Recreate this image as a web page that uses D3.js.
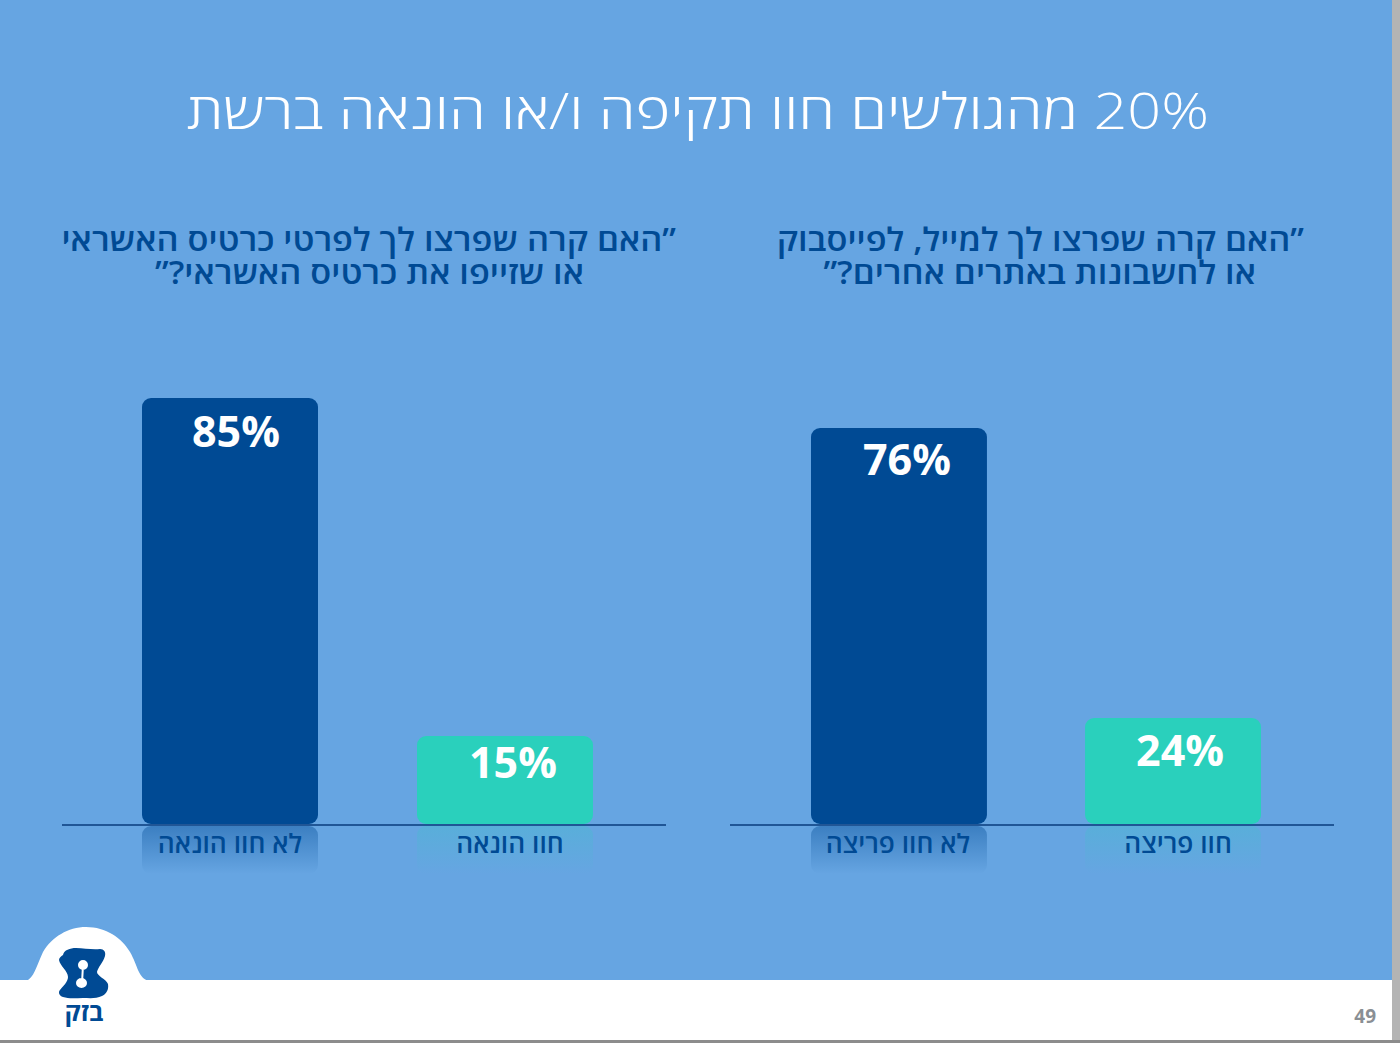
<!DOCTYPE html>
<html lang="he"><head><meta charset="utf-8">
<script src="https://cdn.jsdelivr.net/npm/d3@7/dist/d3.min.js"></script>
<style>html,body{margin:0;padding:0;background:#fff;overflow:hidden}svg{display:block}
text{font-family:"Open Sans","DejaVu Sans",sans-serif}</style></head><body>
<svg id="c" width="1400" height="1043"></svg>
<script>
const titleText = "20% מהגולשים חוו תקיפה ו/או הונאה ברשת";
const rightQuestion = ["”האם קרה שפרצו לך למייל, לפייסבוק", "או לחשבונות באתרים אחרים?”"];
const leftQuestion = ["”האם קרה שפרצו לך לפרטי כרטיס האשראי", "או שזייפו את כרטיס האשראי?”"];
const leftCategories = ["לא חוו הונאה", "חוו הונאה"];
const leftValues = [85, 15];
const rightCategories = ["לא חוו פריצה", "חוו פריצה"];
const rightValues = [76, 24];
const pageNumber = "49";
const BG="#66A5E2", NAVY="#004A94", TEAL="#2AD0BC";
const svg=d3.select("#c");
const defs=svg.append("defs");
[["n",NAVY,.42],["t",TEAL,.22]].forEach(([id,col,op])=>{
  const g=defs.append("linearGradient").attr("id","refl"+id).attr("x1",0).attr("x2",0).attr("y1",0).attr("y2",1);
  g.append("stop").attr("offset",0).attr("stop-color",col).attr("stop-opacity",op);
  g.append("stop").attr("offset",1).attr("stop-color",col).attr("stop-opacity",0);
});
svg.append("rect").attr("width",1400).attr("height",1043).attr("fill","#fff");
svg.append("rect").attr("width",1392).attr("height",980).attr("fill",BG);
svg.append("rect").attr("x",1392).attr("width",8).attr("height",1043).attr("fill","#b4b4b4");
svg.append("rect").attr("y",1040).attr("width",1400).attr("height",3).attr("fill","#8c8c8c");
// anchored text stretched horizontally to the reference's wider Hebrew face
function stretched(parent,x,y,sx,anchor,size,weight,fill,t){
  return parent.append("text").attr("transform",`translate(${x},${y}) scale(${sx},1)`)
    .attr("direction","rtl").attr("text-anchor",anchor).attr("font-size",size)
    .attr("font-weight",weight).attr("fill",fill).text(t);
}
stretched(svg,1209,129,1.186,"start",50,300,"#fff",titleText);

function panel(o){
  const x=d3.scaleBand().domain(o.cats).range(o.xr).paddingInner(o.pi).paddingOuter(0);
  const y=d3.scaleLinear().domain(o.dom).range([824,o.top]);
  const g=svg.append("g");
  o.q.forEach((t,i)=>stretched(g,o.qx[i],251+i*33,1.075,"start",32,600,NAVY,t));
  o.cats.forEach((c,i)=>{
    const bx=x(c),bw=x.bandwidth(),top=y(o.vals[i]);
    g.append("rect").attr("x",bx).attr("y",826).attr("width",bw).attr("height",48).attr("rx",9)
      .attr("fill",`url(#refl${i?"t":"n"})`);
    g.append("rect").attr("x",bx).attr("y",top).attr("width",bw).attr("height",824-top).attr("rx",9)
      .attr("fill",i?TEAL:NAVY);
    g.append("text").attr("x",bx+bw/2+o.vdx[i]).attr("y",top+o.vdy[i]).attr("text-anchor","middle")
      .attr("font-size",43).attr("font-weight",700).attr("fill","#fff").text(o.vals[i]+"%");
    g.append("text").attr("x",bx+bw/2+o.ldx[i]).attr("y",853).attr("direction","rtl").attr("text-anchor","middle")
      .attr("font-size",26.4).attr("font-weight",600).attr("fill",NAVY).text(c);
  });
  g.append("line").attr("x1",o.ax[0]).attr("x2",o.ax[1]).attr("y1",825).attr("y2",825).attr("stroke","#0A3D7C").attr("stroke-width",1.3);
}
panel({cats:leftCategories,vals:leftValues,q:leftQuestion,qx:[676,584],xr:[142,593],pi:.36,dom:[-3.2,85],top:398,vdx:[6,8],vdy:[49,42],ldx:[0,5],ax:[62,666]});
panel({cats:rightCategories,vals:rightValues,q:rightQuestion,qx:[1304,1256],xr:[811,1261],pi:.358,dom:[5,76],top:428,vdx:[8,7],vdy:[47,48],ldx:[-1,5],ax:[730,1334]});

// logo
svg.append("path").attr("fill","#fff").attr("d","M26 981 C34 978 36 967 43 952 C52 937 68 927 86 927 C106 927 122 938 130 952 C138 966 138 978 149 981 Z");
svg.append("path").attr("fill",NAVY).attr("d","M63 955 C64 950 70 948 76 948 C84 948 92 950 100 949 C104 949 106 952 105 956 C103 963 98 967 97 972 C97 976 106 979 108 984 C109 990 106 994 102 996 C96 999 89 998 83 998 C76 998 69 999 63 997 C59 996 58 992 60 990 C63 986 68 982 68 977 C68 971 60 966 59 960 C59 958 61 956 63 955 Z");
svg.append("path").attr("fill","#fff").attr("d","M78 965 a5 5 0 1 1 10 0 a5 5 0 1 1 -10 0 Z M76 983 a5.5 5 0 1 1 11 0 a5.5 5 0 1 1 -11 0 Z M82 965 L84 965 L83 983 L81 983 Z");
svg.append("text").attr("x",84).attr("y",1021).attr("direction","rtl").attr("text-anchor","middle")
  .attr("font-size",25).attr("font-weight",700).attr("fill",NAVY).text("בזק");
svg.append("text").attr("x",1376).attr("y",1023).attr("text-anchor","end")
  .attr("font-size",19).attr("font-weight",700).attr("fill","#8a8f94").text(pageNumber);
</script></body></html>
